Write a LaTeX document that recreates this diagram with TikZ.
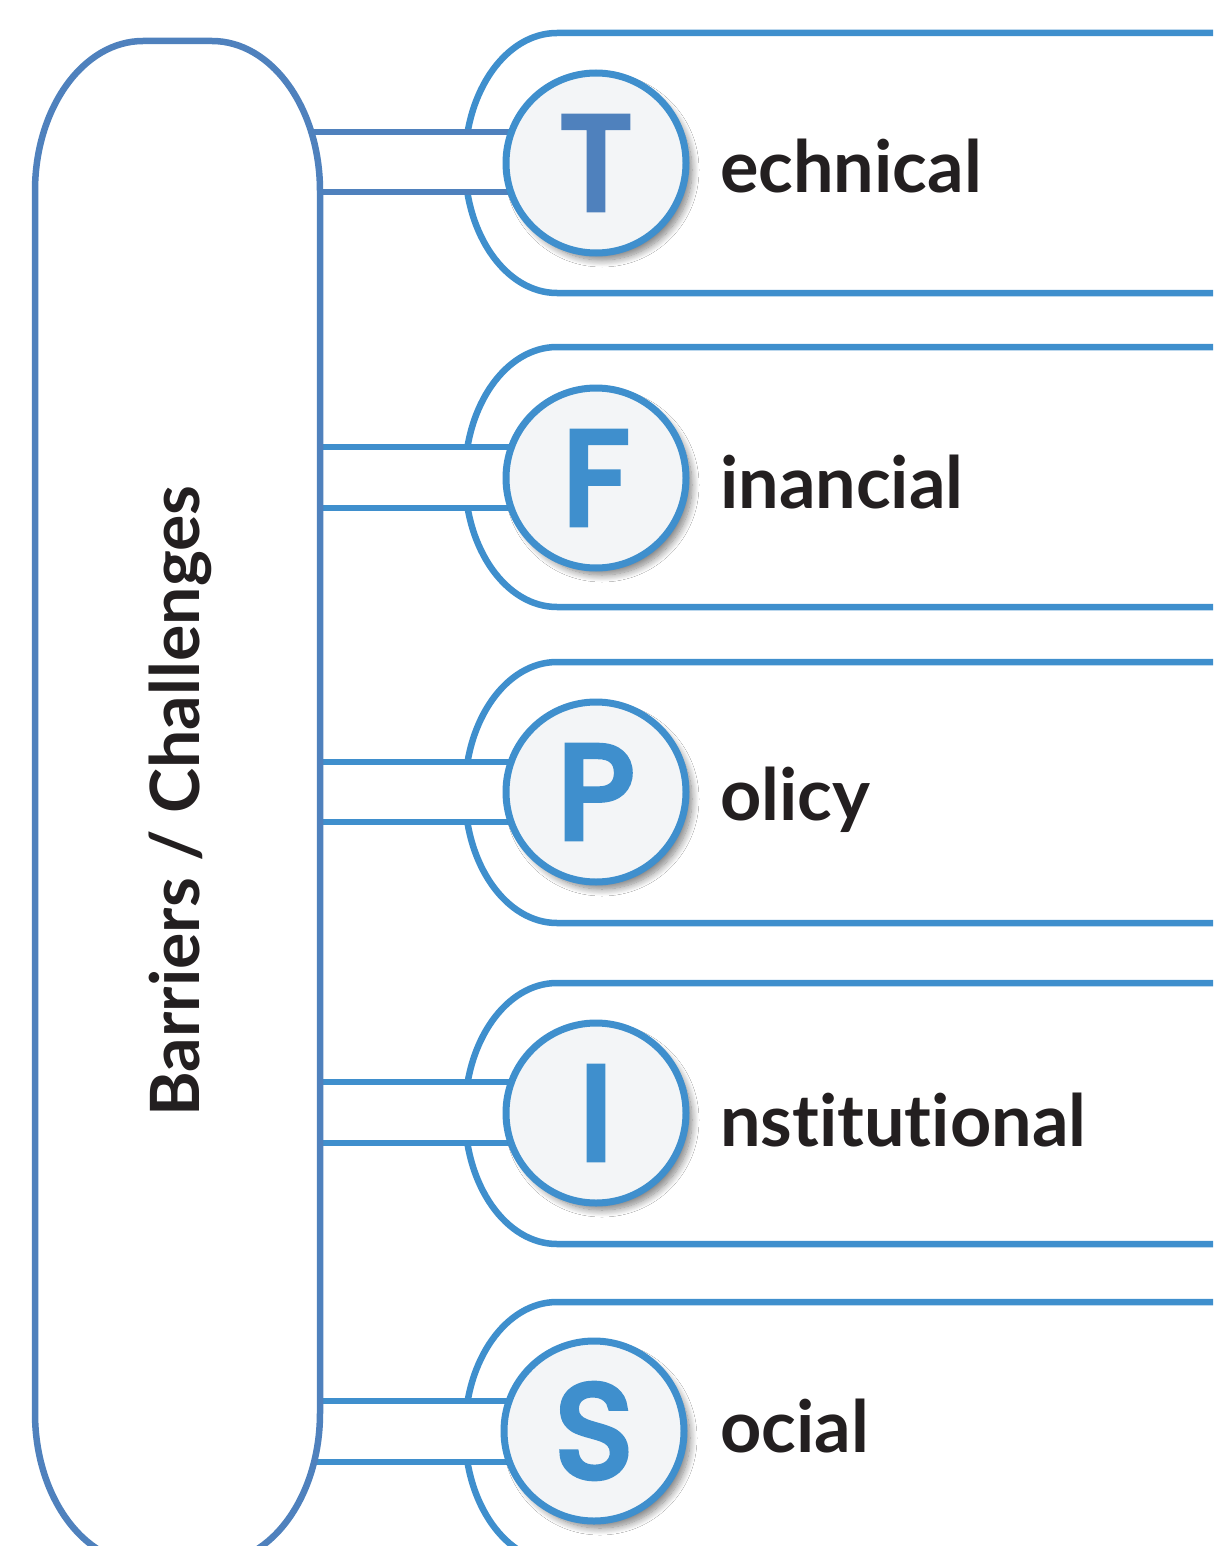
\documentclass[tikz,border=0pt]{standalone}
\usepackage{fontspec}
\setmainfont{Lato}[Ligatures={NoCommon}]
\newfontfamily\letterfont{Poppins}[FakeBold=5]
\usetikzlibrary{shadows.blur}
\definecolor{cpill}{HTML}{4F81BD}
\definecolor{cbright}{HTML}{3F8FCD}
\definecolor{ctext}{HTML}{231F20}
\definecolor{cfill}{HTML}{F3F5F7}
\tikzset{
  shell/.style={draw=cbright, line width=6.5pt, fill=white},
  bandfill/.style={fill=white, draw=none},
  bandline/.style={line width=6.5pt},
  badge/.style={circle, draw=cbright, line width=7pt, fill=cfill, minimum size=180pt, inner sep=0pt,
    font=\letterfont\fontsize{132}{132}\selectfont, text=cbright,
    blur shadow={shadow xshift=6pt, shadow yshift=-7pt, shadow blur radius=7pt, shadow blur steps=12, shadow opacity=50}},
  label/.style={anchor=base west, inner sep=0pt, text=ctext, font=\bfseries\fontsize{72}{72}\selectfont},
}
\begin{document}
\begin{tikzpicture}[x=1pt, y=-1pt]
\useasboundingbox (0,0) rectangle (1213,1546);
\clip (0,0) rectangle (1213,1546);
% circle centres
\coordinate (cT) at (596,163);
\coordinate (cF) at (596,478);
\coordinate (cP) at (596,792);
\coordinate (cI) at (596,1113);
\coordinate (cS) at (594,1431);
% right shells
\foreach \t/\b in {33/293, 347/607, 662/923, 983/1244, 1302/1562}{
  \draw[shell] (1230,\t) -- (557,\t) arc[start angle=270, end angle=90, x radius=92, y radius={(\b-\t)/2}] -- (1230,\b);
}
% band start coordinates
\coordinate (bTa) at (300,132); \coordinate (bTb) at (300,192);
\coordinate (bFa) at (300,447); \coordinate (bFb) at (300,508);
\coordinate (bPa) at (300,762); \coordinate (bPb) at (300,822);
\coordinate (bIa) at (300,1082); \coordinate (bIb) at (300,1143);
\coordinate (bSa) at (300,1401); \coordinate (bSb) at (300,1462);
% bands
\foreach \n/\c in {T/cpill, F/cbright, P/cbright, I/cbright, S/cbright}{
  \fill[bandfill] (b\n a) rectangle (b\n b -| c\n);
  \draw[bandline, draw=\c] (b\n a) -- (b\n a -| c\n);
  \draw[bandline, draw=\c] (b\n b) -- (b\n b -| c\n);
}
% left pill
\draw[draw=cpill, line width=6.5pt, fill=white]
  (143,41) -- (212,41) arc[start angle=270, end angle=360, x radius=108, y radius=150]
  -- (320,1413) arc[start angle=0, end angle=90, x radius=108, y radius=150]
  -- (143,1563) arc[start angle=90, end angle=180, x radius=108, y radius=150]
  -- (35,191) arc[start angle=180, end angle=270, x radius=108, y radius=150] -- cycle;
\node[rotate=90, text=ctext, font=\bfseries\fontsize{68}{68}\selectfont, inner sep=0pt] (title) at (180,801) {Barriers / Challenges};
% badges
\node[badge, text=cpill] (nT) at (cT) {T};
\node[badge] (nF) at (cF) {F};
\node[badge] (nP) at (cP) {P};
\node[badge] (nI) at (cI) {I};
\node[badge] (nS) at (cS) {S};
% labels
\node[label] (lT) at (720,193) {echnical};
\node[label] (lF) at (720,508) {inancial};
\node[label] (lP) at (720,820) {olicy};
\node[label] (lI) at (720,1146) {nstitutional};
\node[label] (lS) at (720,1452) {ocial};
\end{tikzpicture}
\end{document}
